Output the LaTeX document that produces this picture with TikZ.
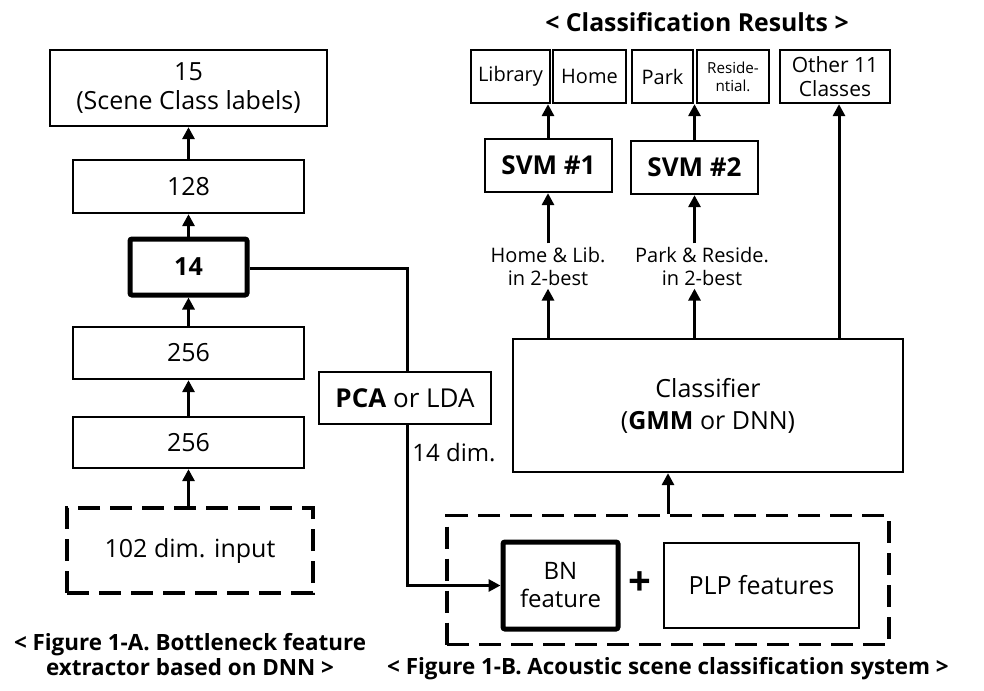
\documentclass[tikz,border=0pt]{standalone}
\usepackage{fontspec}
\setmainfont{Open Sans}
\usetikzlibrary{arrows.meta}
\begin{document}
\begin{tikzpicture}[x=0.5pt, y=-0.5pt,
  box/.style={draw, line width=1.15pt, inner sep=0pt, align=center, font=\fontsize{12.5}{14.5}\selectfont},
  sz/.style 2 args={minimum width=#1*0.5pt, minimum height=#2*0.5pt},
  thick box/.style={box, line width=2.5pt, rounded corners=1pt},
  dash box/.style={box, line width=1.6pt, dash pattern=on 11pt off 5pt},
  small box/.style={box, font=\fontsize{10}{12}\selectfont},
  arr/.style={-{Triangle[length=6pt, width=6pt]}, line width=1.5pt},
  lbl/.style={inner sep=1.5pt, align=center, font=\fontsize{10}{11.5}\selectfont}]
\useasboundingbox (0,0) rectangle (984,690);
% left: bottleneck feature extractor
\node[box, sz={277}{76}] (cls15) at (188.5,88) {15\\(Scene Class labels)};
\node[box, sz={231}{53}] (h128) at (188.5,186.5) {128};
\node[thick box, sz={117}{56}, font=\fontsize{12.5}{14.5}\selectfont\bfseries] (bn14) at (188.5,267) {14};
\node[box, sz={231}{52}] (h256a) at (188.5,353) {256};
\node[box, sz={231}{51}] (h256b) at (188.5,442.5) {256};
\node[dash box, sz={246}{85}] (inp) at (190,550.5) {102 dim. input};
\draw[arr] (inp.north -| h256b) -- (h256b.south);
\draw[arr] (h256b.north) -- (h256a.south);
\draw[arr] (h256a.north) -- (bn14.south);
\draw[arr] (bn14.north) -- (h128.south);
\draw[arr] (h128.north) -- (cls15.south);
\node[lbl, font=\fontsize{11.2}{12.5}\selectfont\bfseries] (capA) at (190,655) {< Figure 1-A. Bottleneck feature\\extractor based on DNN >};
% projection
\node[box, sz={172}{52}, font=\fontsize{13}{15}\selectfont] (pca) at (405,398) {\textbf{PCA} or LDA};
\coordinate (turn) at (407,268);
\draw[line width=1.5pt] (bn14.east |- turn) -- (turn) -- (turn |- pca.north);
\node[anchor=west, inner sep=0pt, font=\fontsize{12}{14}\selectfont] (dim) at (412,453) {14 dim.};
% right: acoustic scene classification
\node[dash box, sz={442}{129}] (feat) at (668,580) {};
\node[thick box, sz={115}{87}, font=\fontsize{12}{14}\selectfont] (bnf) at (560.5,585.5) {BN\\feature};
\node[font=\fontsize{20}{20}\selectfont\bfseries, inner sep=0pt] (plus) at (640,584) {+};
\node[box, sz={195}{85}] (plp) at (761.5,585.5) {PLP features};
\draw[arr] (pca.south -| turn) |- (bnf.west);
\node[box, sz={390}{133}, font=\fontsize{12.5}{16}\selectfont] (clf) at (708,405.5) {Classifier\\(\textbf{GMM} or DNN)};
\draw[arr] (feat.north) -- (feat.north |- clf.south);
\node[lbl] (lbl1) at (548,266) {Home \& Lib.\\in 2-best};
\node[lbl] (lbl2) at (702,266) {Park \& Reside.\\in 2-best};
\node[box, sz={127}{53}, font=\fontsize{13}{15}\selectfont\bfseries] (svm1) at (548.5,165.5) {SVM \#1};
\node[box, sz={127}{53}, font=\fontsize{13}{15}\selectfont\bfseries] (svm2) at (694.5,167.5) {SVM \#2};
\node[small box, sz={79}{53}] (lib) at (510.5,76.5) {Library};
\node[small box, sz={73}{53}] (home) at (589.5,76.5) {Home};
\node[small box, sz={61}{53}] (park) at (662.5,76.5) {Park};
\node[small box, sz={72}{53}, font=\fontsize{7.6}{9}\selectfont] (resi) at (733,76.5) {Reside-\\ntial.};
\node[small box, sz={110}{53}, font=\fontsize{10.5}{12}\selectfont] (other) at (835,76.5) {Other 11\\Classes};
\node[font=\fontsize{12.4}{14}\selectfont\bfseries] (title) at (697,22) {< Classification Results >};
\draw[arr] (clf.north -| lbl1) -- (lbl1.south);
\draw[arr] (lbl1.north) -- (svm1.south -| lbl1);
\draw[arr] (svm1.north -| lbl1) -- (lib.south -| lbl1);
\draw[arr] (clf.north -| svm2) -- (lbl2.south -| svm2);
\draw[arr] (lbl2.north -| svm2) -- (svm2.south);
\draw[arr] (svm2.north) -- (park.south -| svm2);
\draw[arr] (clf.north -| 839,0) -- (other.south -| 839,0);
\node[lbl, font=\fontsize{11.2}{12}\selectfont\bfseries] (capB) at (668,669) {< Figure 1-B. Acoustic scene classification system >};
\end{tikzpicture}
\end{document}
